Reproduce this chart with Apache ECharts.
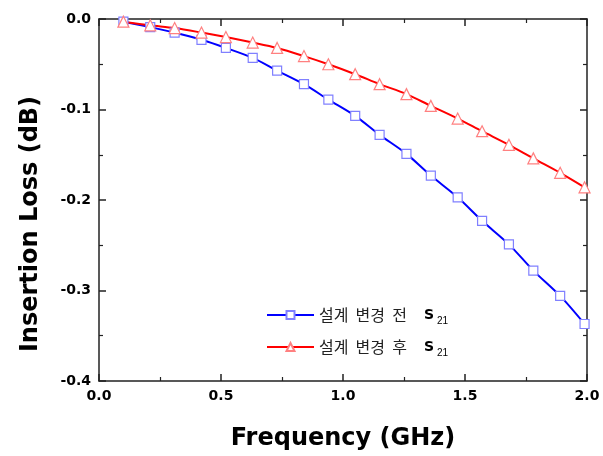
<!DOCTYPE html>
<html>
<head>
<meta charset="utf-8">
<script src="https://cdn.jsdelivr.net/npm/echarts@6/dist/echarts.min.js"></script>
<style>
  html, body { margin: 0; padding: 0; background: #fff; }
  #chart { width: 603px; height: 456px; }
</style>
</head>
<body>
<div id="chart"></div>
<script>
// frequency points (GHz)
const freq = [0.10, 0.21, 0.31, 0.42, 0.52, 0.63, 0.73, 0.84, 0.94, 1.05,
  1.15, 1.26, 1.36, 1.47, 1.57, 1.68, 1.78, 1.89, 1.99]
// 설계 변경 전 S21
const before = [-0.003, -0.009, -0.015, -0.023, -0.032, -0.043, -0.057, -0.072, -0.089, -0.107,
  -0.128, -0.149, -0.173, -0.197, -0.223, -0.249, -0.278, -0.306, -0.337]
// 설계 변경 후 S21
const after = [-0.003, -0.007, -0.010, -0.015, -0.020, -0.026, -0.032, -0.041, -0.050, -0.061,
  -0.072, -0.083, -0.096, -0.110, -0.124, -0.139, -0.154, -0.170, -0.186]
const names = ['설계 변경 전', '설계 변경 후']

const mChart = echarts.init(document.getElementById('chart'))

const frameAxis = {
  axisLine: {show: true, onZero: false, lineStyle: {color: '#222', width: 1.5}},
  axisTick: {show: true, inside: true, length: 7, lineStyle: {color: '#222', width: 1.5}},
  minorTick: {show: true, splitNumber: 2, length: 4, lineStyle: {color: '#222', width: 1.2}},
  splitLine: {show: false}
}
const labelStyle = {color: '#000', fontFamily: 'DejaVu Sans', fontWeight: 'bold', fontSize: 14, margin: 8}
const titleStyle = {color: '#000', fontFamily: 'DejaVu Sans', fontWeight: 'bold', fontSize: 24}

const option = {
  animation: false,
  grid: {left: 99, right: 16, top: 19, bottom: 75},
  xAxis: [
    {
      ...frameAxis,
      type: 'value', min: 0, max: 2, interval: 0.5,
      position: 'bottom',
      axisLabel: {...labelStyle, formatter: v => v.toFixed(1)},
      name: 'Frequency (GHz)',
      nameLocation: 'middle',
      nameGap: 46,
      nameTextStyle: titleStyle
    },
    {
      ...frameAxis,
      type: 'value', min: 0, max: 2, interval: 0.5,
      position: 'top',
      axisLabel: {show: false}
    }
  ],
  yAxis: [
    {
      ...frameAxis,
      type: 'value', min: -0.4, max: 0, interval: 0.1,
      position: 'left',
      axisLabel: {...labelStyle, formatter: v => v.toFixed(1)},
      name: 'Insertion Loss (dB)',
      nameLocation: 'middle',
      nameGap: 56,
      nameTextStyle: {...titleStyle, padding: [0, 48, 0, 0]}
    },
    {
      ...frameAxis,
      type: 'value', min: -0.4, max: 0, interval: 0.1,
      position: 'right',
      axisLabel: {show: false}
    }
  ],
  legend: {
    orient: 'vertical',
    left: 261,
    top: 302,
    itemWidth: 47,
    itemHeight: 10,
    itemGap: 13,
    data: names,
    formatter: name => '{a|' + name.split(' ').join('  ') + '}{b|S}{c|21}',
    textStyle: {
      color: '#222',
      rich: {
        a: {fontFamily: 'Noto Sans CJK KR', fontSize: 16, color: '#222', padding: [0, 17, 0, 0]},
        b: {fontFamily: 'DejaVu Sans', fontWeight: 'bold', fontSize: 14, color: '#000'},
        c: {fontFamily: 'Liberation Sans', fontSize: 10, color: '#000', padding: [12, 0, 0, 3]}
      }
    }
  },
  series: [
    {
      name: names[0],
      type: 'line',
      smooth: 0.3,
      data: freq.map((f, i) => [f, before[i]]),
      symbol: 'rect',
      symbolSize: 9,
      lineStyle: {color: '#0000ff', width: 2},
      itemStyle: {color: '#fff', borderColor: '#8080ff', borderWidth: 1.2}
    },
    {
      name: names[1],
      type: 'line',
      smooth: 0.3,
      data: freq.map((f, i) => [f, after[i]]),
      symbol: 'triangle',
      symbolSize: 11,
      lineStyle: {color: '#ff0000', width: 2},
      itemStyle: {color: '#fff', borderColor: '#ff8080', borderWidth: 1.2}
    }
  ]
}
mChart.setOption(option, true)
</script>
</body>
</html>
